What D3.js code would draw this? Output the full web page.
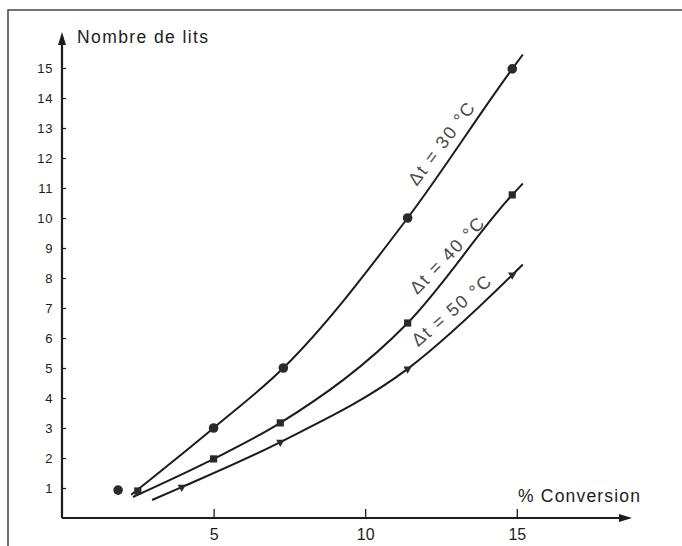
<!DOCTYPE html>
<html>
<head>
<meta charset="utf-8">
<script src="https://cdn.jsdelivr.net/npm/d3@7"></script>
<style>
  body { margin: 0; background: #fff; }
  svg { display: block; font-family: "Liberation Sans", Arial, sans-serif; }
</style>
</head>
<body>
<svg id="chart" width="682" height="546"></svg>
<script>
// values
let seriesNames = ['Δt = 30 °C', 'Δt = 40 °C', 'Δt = 50 °C']

// measured points (markers)
let conv30 = [1.85, 5.0, 7.3, 11.4, 14.85]
let beds30 = [0.93, 3.0, 5.0, 10.0, 14.97]
let conv40 = [2.5, 5.0, 7.2, 11.4, 14.85]
let beds40 = [0.9, 1.97, 3.17, 6.5, 10.77]
let conv50 = [3.95, 7.2, 11.4, 14.85]
let beds50 = [1.03, 2.53, 4.97, 8.1]

// drawn curves (start and end)
let curveX30 = [2.28, 5.0, 7.3, 11.4, 14.85, 15.2]
let curveY30 = [0.77, 3.0, 5.0, 10.0, 14.97, 15.45]
let curveX40 = [2.34, 5.0, 7.2, 11.4, 14.85, 15.2]
let curveY40 = [0.7, 1.97, 3.17, 6.5, 10.77, 11.15]
let curveX50 = [2.97, 3.95, 7.2, 11.4, 14.85, 15.2]
let curveY50 = [0.6, 1.03, 2.53, 4.97, 8.1, 8.45]

let xTicks = [5, 10, 15]
let yTicks = [1, 2, 3, 4, 5, 6, 7, 8, 9, 10, 11, 12, 13, 14, 15]

let svg = d3.select('#chart')
let ink = '#1c1c1c'

// frame of the scanned page
svg.append('path')
  .attr('d', 'M8,546 V10 H682')
  .attr('fill', 'none')
  .attr('stroke', '#444')
  .attr('stroke-width', 1.5)

let x = d3.scaleLinear().domain([0, 18.8]).range([62, 632])
let y = d3.scaleLinear().domain([0, 16.2]).range([518, 32])

// x axis
let gx = svg.append('g')
  .attr('transform', `translate(0,${y(0)})`)
  .call(d3.axisBottom(x).tickValues(xTicks).tickSizeInner(-9).tickSizeOuter(0).tickPadding(11))
gx.select('.domain').remove()
gx.selectAll('line').attr('stroke', ink).attr('stroke-width', 1.3)
gx.selectAll('text').attr('font-size', 16).attr('fill', ink).attr('font-family', null)

// y axis
let gy = svg.append('g')
  .attr('transform', `translate(${x(0)},0)`)
  .call(d3.axisLeft(y).tickValues(yTicks).tickSizeInner(-4).tickSizeOuter(0).tickPadding(9))
gy.select('.domain').remove()
gy.selectAll('line').attr('stroke', ink).attr('stroke-width', 1.2)
gy.selectAll('text').attr('font-size', 13).attr('fill', ink).attr('font-family', null)
  .attr('letter-spacing', 0.6)

// axis lines with arrow heads
svg.append('line')
  .attr('x1', x(0)).attr('y1', y(0)).attr('x2', x(18.8) - 8).attr('y2', y(0))
  .attr('stroke', ink).attr('stroke-width', 2)
svg.append('path')
  .attr('d', `M${x(18.8)},${y(0)} l-13,-4 l0,8 z`)
  .attr('fill', ink)
svg.append('line')
  .attr('x1', x(0)).attr('y1', y(0)).attr('x2', x(0)).attr('y2', y(16.2) + 8)
  .attr('stroke', ink).attr('stroke-width', 2.2)
svg.append('path')
  .attr('d', `M${x(0)},${y(16.2)} l-4,13 l8,0 z`)
  .attr('fill', ink)

// axis titles
svg.append('text')
  .attr('x', 77).attr('y', 43)
  .attr('font-size', 17.5)
  .attr('fill', ink)
  .attr('textLength', 131)
  .attr('lengthAdjust', 'spacing')
  .text('Nombre  de  lits')

svg.append('text')
  .attr('x', 518).attr('y', 502)
  .attr('font-size', 17.5)
  .attr('fill', ink)
  .attr('textLength', 122)
  .attr('lengthAdjust', 'spacing')
  .text('%  Conversion')

// curves
let line = d3.line()
  .x(d => x(d[0]))
  .y(d => y(d[1]))
  .curve(d3.curveMonotoneX)

let curves = [
  d3.zip(curveX30, curveY30),
  d3.zip(curveX40, curveY40),
  d3.zip(curveX50, curveY50)
]

svg.selectAll('path.curve')
  .data(curves)
  .enter()
  .append('path')
  .attr('class', 'curve')
  .attr('d', line)
  .attr('fill', 'none')
  .attr('stroke', ink)
  .attr('stroke-width', 2)

// markers
svg.selectAll('circle.m30')
  .data(d3.zip(conv30, beds30))
  .enter()
  .append('circle')
  .attr('class', 'm30')
  .attr('cx', d => x(d[0]))
  .attr('cy', d => y(d[1]))
  .attr('r', 4.8)
  .attr('fill', '#2a2a2a')

svg.selectAll('rect.m40')
  .data(d3.zip(conv40, beds40))
  .enter()
  .append('rect')
  .attr('class', 'm40')
  .attr('x', d => x(d[0]) - 3.6)
  .attr('y', d => y(d[1]) - 3.6)
  .attr('width', 7.2)
  .attr('height', 7.2)
  .attr('fill', '#2a2a2a')

svg.selectAll('path.m50')
  .data(d3.zip(conv50, beds50))
  .enter()
  .append('path')
  .attr('class', 'm50')
  .attr('d', d3.symbol(d3.symbolTriangle, 30))
  .attr('transform', d => `translate(${x(d[0])},${y(d[1])}) rotate(180)`)
  .attr('fill', '#2a2a2a')

// curve labels, placed along each curve
let labelX = [12.67, 12.84, 12.97]
let labelY = [12.35, 8.6, 6.75]
let labelAngle = [-53, -46, -40.5]

svg.selectAll('text.lbl')
  .data(seriesNames)
  .enter()
  .append('text')
  .attr('class', 'lbl')
  .attr('text-anchor', 'middle')
  .attr('font-size', 18)
  .attr('fill', '#4a4a4a')
  .attr('textLength', 98)
  .attr('lengthAdjust', 'spacing')
  .attr('transform', (d, i) => `translate(${x(labelX[i])},${y(labelY[i])}) rotate(${labelAngle[i]})`)
  .text(d => d)
</script>
</body>
</html>
